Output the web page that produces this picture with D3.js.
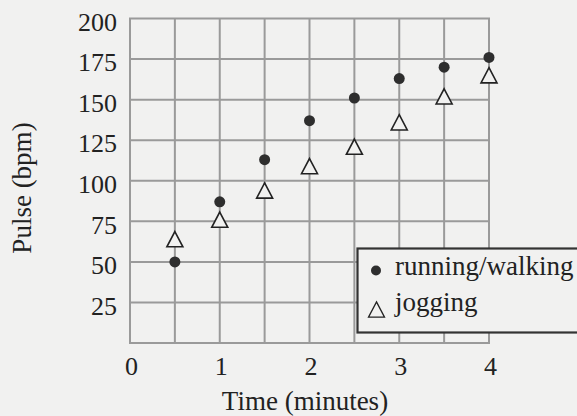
<!DOCTYPE html>
<html><head><meta charset="utf-8">
<script src="https://cdn.jsdelivr.net/npm/d3@7"></script>
<style>
html,body{margin:0;padding:0;background:#f1f1f0;}
svg{display:block;}
svg text{font-family:"Liberation Serif","DejaVu Serif",serif !important;fill:#222;}
</style></head>
<body>
<svg id="chart" width="577" height="416"></svg>
<script>
const times = [0.5, 1, 1.5, 2, 2.5, 3, 3.5, 4];
const runningWalking = [50, 87, 113, 137, 151, 163, 170, 176];
const jogging = [64, 76, 94, 109, 121, 136, 152, 165];
const xTicks = [0, 1, 2, 3, 4];
const yTicks = [25, 50, 75, 100, 125, 150, 175, 200];
const xGrid = [0, 0.5, 1, 1.5, 2, 2.5, 3, 3.5, 4];
const yGrid = [0, 25, 50, 75, 100, 125, 150, 175, 200];
const legendLabels = ["running/walking", "jogging"];

const FONT = '"Liberation Serif","DejaVu Serif",serif';
const svg = d3.select("#chart");
const x = d3.scaleLinear().domain([0, 4]).range([130, 489]);
const y = d3.scaleLinear().domain([0, 200]).range([343, 18.5]);
const bg = "#f1f1f0";

// grid
const g = svg.append("g");
g.selectAll("line.v").data(xGrid).join("line")
  .attr("x1", d => x(d)).attr("x2", d => x(d))
  .attr("y1", y(0)).attr("y2", y(200))
  .attr("stroke", "#9a9a9a").attr("stroke-width", 2);
g.selectAll("line.h").data(yGrid).join("line")
  .attr("y1", d => y(d)).attr("y2", d => y(d))
  .attr("x1", x(0) - 1).attr("x2", x(4) + 1)
  .attr("stroke", "#9a9a9a").attr("stroke-width", 2);

// y axis labels
svg.append("g").attr("transform", "translate(117,0)")
  .call(d3.axisLeft(y).tickValues(yTicks).tickSize(0).tickPadding(0))
  .call(a => a.attr("font-family", FONT).attr("font-size", 26))
  .call(a => a.select(".domain").remove())
  .call(a => a.selectAll("text").style("font-family", FONT).style("font-size", "26px")
    .attr("dy", "0.45em").attr("fill", "#222"));

// x axis labels
svg.append("g").attr("transform", "translate(1,356)")
  .call(d3.axisBottom(x).tickValues(xTicks).tickFormat(d3.format("d")).tickSize(0).tickPadding(0))
  .call(a => a.attr("font-family", FONT).attr("font-size", 26))
  .call(a => a.select(".domain").remove())
  .call(a => a.selectAll("text").style("font-family", FONT).style("font-size", "26px")
    .attr("dy", "0.72em").attr("fill", "#222"));

// axis titles
svg.append("text").attr("x", 305).attr("y", 410).attr("text-anchor", "middle")
  .style("font-family", FONT).style("font-size", "27px").text("Time (minutes)");
svg.append("text").attr("transform", "translate(31,188) rotate(-90)")
  .attr("text-anchor", "middle").style("font-family", FONT).style("font-size", "27px").text("Pulse (bpm)");

const tri = (cx, cy, s) => {
  const h = s * 0.95;
  return `M${cx},${cy - h / 2}L${cx + s / 2},${cy + h / 2}L${cx - s / 2},${cy + h / 2}Z`;
};

// jogging triangles
svg.append("g").selectAll("path").data(times.map((t, i) => [t, jogging[i]])).join("path")
  .attr("d", d => tri(x(d[0]), y(d[1]), 16))
  .attr("fill", bg).attr("stroke", "#222").attr("stroke-width", 1.6)
  .attr("stroke-linejoin", "miter");

// running dots
svg.append("g").selectAll("circle").data(times.map((t, i) => [t, runningWalking[i]])).join("circle")
  .attr("cx", d => x(d[0])).attr("cy", d => y(d[1])).attr("r", 5.5)
  .attr("fill", "#2e2e2e");

// legend
const lg = svg.append("g");
lg.append("rect").attr("x", 357.5).attr("y", 248.5).attr("width", 240).attr("height", 84)
  .attr("fill", bg).attr("stroke", "#333").attr("stroke-width", 2.2);
lg.append("circle").attr("cx", 376).attr("cy", 270.5).attr("r", 5).attr("fill", "#2e2e2e");
lg.append("path").attr("d", tri(376.5, 309.5, 16)).attr("fill", "none")
  .attr("stroke", "#222").attr("stroke-width", 1.3);
lg.selectAll("text").data(legendLabels).join("text")
  .attr("x", 395).attr("y", (d, i) => 275 + i * 36)
  .style("font-family", FONT).style("font-size", "27px").text(d => d);
</script>
</body></html>
